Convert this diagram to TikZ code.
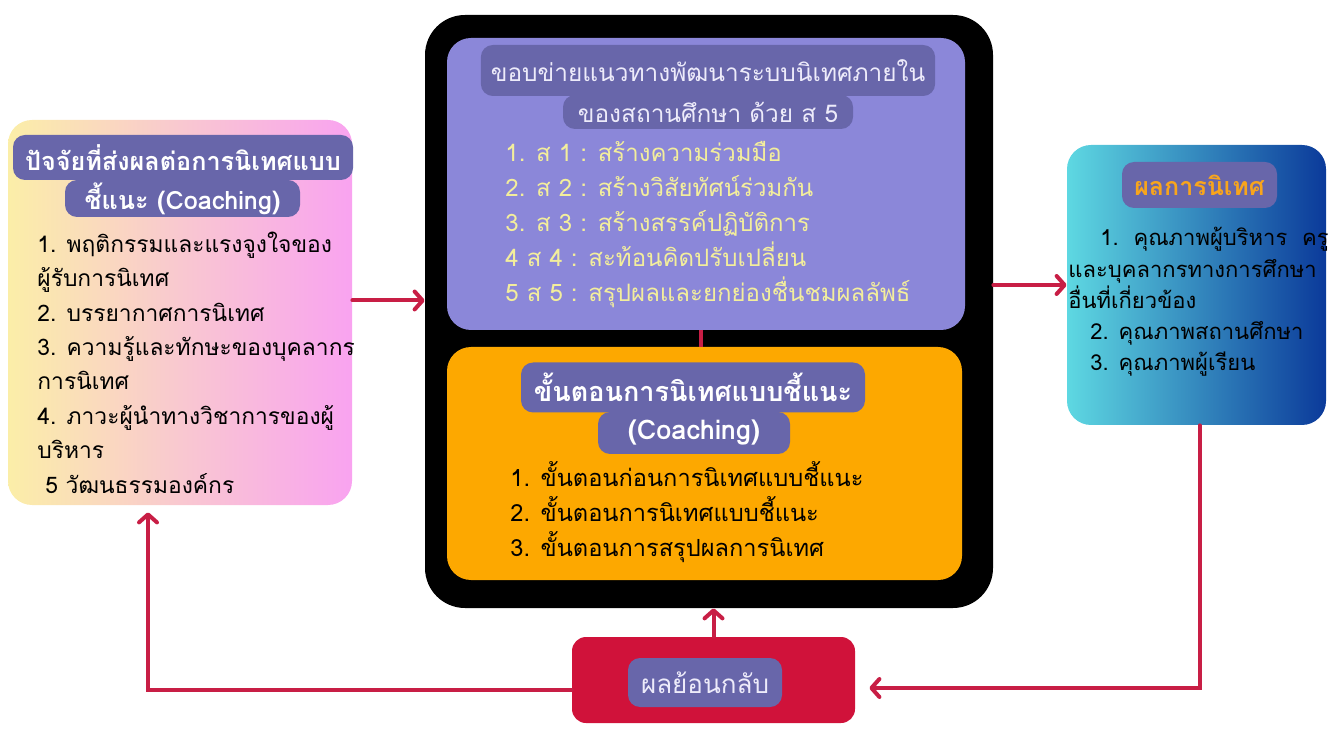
\documentclass[tikz,border=0pt]{standalone}
\usepackage{fontspec}
\setmainfont{Loma}[Script=Thai]
\usetikzlibrary{positioning,arrows.meta}
\definecolor{tagpurple}{RGB}{104,102,170}
\definecolor{scopeviolet}{RGB}{139,135,217}
\definecolor{listyellow}{RGB}{243,238,156}
\definecolor{stepsorange}{RGB}{253,168,0}
\definecolor{feedred}{RGB}{208,18,58}
\definecolor{arrowred}{RGB}{200,30,69}
\definecolor{leftyellow}{RGB}{251,238,168}
\definecolor{leftmid}{RGB}{249,200,208}
\definecolor{leftpink}{RGB}{249,163,240}
\definecolor{rightcyan}{RGB}{94,216,226}
\definecolor{rightblue}{RGB}{11,58,154}
\definecolor{taglight}{RGB}{237,235,250}
\definecolor{tagorange}{RGB}{248,165,28}
\tikzset{
  panel/.style={rounded corners=12pt, inner sep=0pt},
  tag/.style={fill=tagpurple, rounded corners=6pt, inner xsep=5pt, inner ysep=0pt},
  body/.style={align=left, inner sep=0pt, anchor=west, font=\fontsize{11.4}{17.2}\selectfont},
  flow/.style={draw=arrowred, line width=2pt, line cap=round, -{Straight Barb[length=4pt,width=9pt,round]}}
}

\begin{document}
\begin{tikzpicture}[x=0.5pt, y=-0.5pt]
    \useasboundingbox (0,0) rectangle (1342,731);

    % Left box: factors
    \node[panel, left color=leftyellow, right color=leftpink, middle color=leftmid,
          minimum width=172pt, minimum height=192.5pt] (factors) at (180,312.5) {};
    \node[tag, minimum width=170pt, minimum height=22.5pt, text=white,
          font=\bfseries\fontsize{12.6}{15}\selectfont] (factorsTagA) at (183,157.5) {ปัจจัยที่ส่งผลต่อการนิเทศแบบ};
    \node[tag, minimum width=117.5pt, minimum height=18.5pt, text=white,
          font=\bfseries\fontsize{12.6}{15}\selectfont] (factorsTagB) at (182.5,198.5) {ชี้แนะ (Coaching)};
    \node[body] (factorsList) at (37,362.5) {1. พฤติกรรมและแรงจูงใจของ\\ผู้รับการนิเทศ\\2. บรรยากาศการนิเทศ\\3. ความรู้และทักษะของบุคลากร\\การนิเทศ\\4. ภาวะผู้นำทางวิชาการของผู้\\บริหาร\\\hspace*{4pt}5 วัฒนธรรมองค์กร};

    % Centre: black frame
    \node[panel, fill=black, rounded corners=20pt, minimum width=284pt, minimum height=296.5pt] (hub) at (709,311.5) {};

    % Scope (ส 5)
    \node[panel, fill=scopeviolet, minimum width=259pt, minimum height=146pt] (scope) at (706,184) {};
    \node[tag, minimum width=227pt, minimum height=25.5pt, text=taglight,
          font=\fontsize{12.2}{15}\selectfont] (scopeTagA) at (708,70.5) {ขอบข่ายแนวทางพัฒนาระบบนิเทศภายใน};
    \node[tag, minimum width=145pt, minimum height=17pt, text=taglight,
          font=\fontsize{12.2}{15}\selectfont] (scopeTagB) at (708,112) {ของสถานศึกษา ด้วย ส 5};
    \node[body, text=listyellow, font=\fontsize{12}{17.4}\selectfont] (scopeList) at (505,224.5) {1. ส 1 : สร้างความร่วมมือ\\2. ส 2 : สร้างวิสัยทัศน์ร่วมกัน\\3. ส 3 : สร้างสรรค์ปฏิบัติการ\\4 ส 4 : สะท้อนคิดปรับเปลี่ยน\\5 ส 5 : สรุปผลและยกย่องชื่นชมผลลัพธ์};

    % Steps
    \node[panel, fill=stepsorange, minimum width=257.5pt, minimum height=116.5pt] (steps) at (704.5,463.5) {};
    \node[tag, minimum width=172pt, minimum height=25pt, text=white,
          font=\bfseries\fontsize{13.5}{15}\selectfont] (stepsTagA) at (693,387.5) {ขั้นตอนการนิเทศแบบชี้แนะ};
    \node[tag, minimum width=96pt, minimum height=21pt, text=white,
          font=\bfseries\fontsize{13.5}{15}\selectfont] (stepsTagB) at (694,433) {(Coaching)};
    \node[body, font=\fontsize{11.8}{17.5}\selectfont] (stepsList) at (510,512) {1. ขั้นตอนก่อนการนิเทศแบบชี้แนะ\\2. ขั้นตอนการนิเทศแบบชี้แนะ\\3. ขั้นตอนการสรุปผลการนิเทศ};
    \draw[arrowred, line width=2pt] (scope.south -| 701,0) -- (steps.north -| 701,0);

    % Right box: results
    \node[panel, left color=rightcyan, right color=rightblue,
          minimum width=129.5pt, minimum height=140pt] (result) at (1196.5,285) {};
    \node[tag, minimum width=77.5pt, minimum height=23pt, text=tagorange,
          font=\bfseries\fontsize{12.5}{15}\selectfont] (resultTag) at (1199.5,185) {ผลการนิเทศ};
    \node[body, font=\fontsize{11}{15.6}\selectfont] (resultList) at (1068,302) {\hspace*{16pt}1.\ \ คุณภาพผู้บริหาร\ \ ครู\\และบุคลากรทางการศึกษา\\อื่นที่เกี่ยวข้อง\\\hspace*{11pt}2. คุณภาพสถานศึกษา\\\hspace*{11pt}3. คุณภาพผู้เรียน};

    % Feedback
    \node[panel, fill=feedred, rounded corners=7pt, minimum width=141.5pt, minimum height=43pt] (feedback) at (713.5,680) {};
    \node[tag, minimum width=77pt, minimum height=24.5pt, text=taglight,
          font=\fontsize{13}{15}\selectfont] (feedbackTag) at (705,682.5) {ผลย้อนกลับ};

    % Arrows
    \draw[flow] ([yshift=6pt]factors.east) -- ([yshift=6pt]factors.east -| hub.west);
    \draw[flow] (hub.east |- result) -- (result.west);
    \draw[flow, shorten >=7pt] ([xshift=1.5pt]result.south) |- ([yshift=-4pt]feedback.east);
    \draw[flow] (feedback.north) -- (feedback.north |- hub.south);
    \draw[flow, shorten >=3.5pt] ([yshift=-5pt]feedback.west) -| ([xshift=-16pt]factors.south);
\end{tikzpicture}
\end{document}
